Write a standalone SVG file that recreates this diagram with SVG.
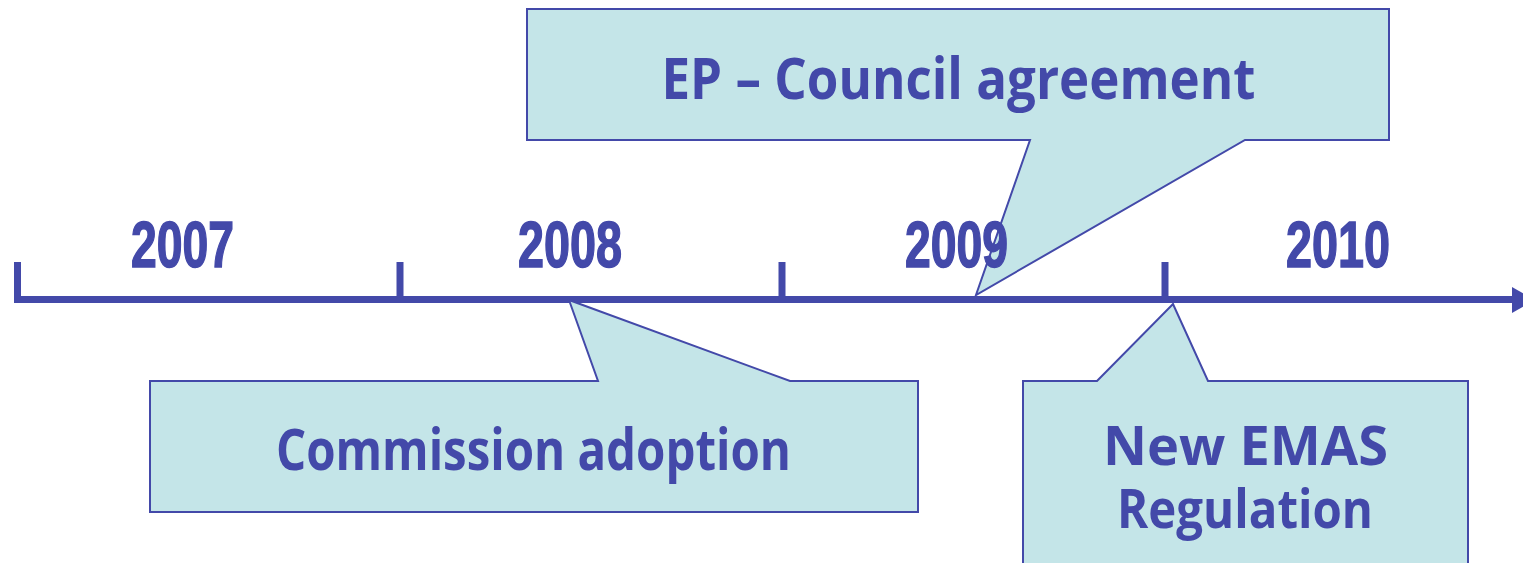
<svg xmlns="http://www.w3.org/2000/svg" width="1523" height="563" viewBox="0 0 1523 563">
<style>
.callout{fill:#C4E5E8;stroke:#4349A9;stroke-width:2;stroke-linejoin:miter}
.lbl{font-family:"Open Sans","Noto Sans",sans-serif;font-weight:700;font-size:57px;fill:#4349A9}
.lbl2{font-family:"Open Sans","Noto Sans",sans-serif;font-weight:700;font-size:54px;fill:#4349A9}
.year{font-family:"Liberation Sans",Arial,sans-serif;font-weight:700;font-size:64px;fill:#4349A9;stroke:#4349A9;stroke-width:1.5}
.axis{stroke:#4349A9;stroke-width:7;fill:none}
</style>
<g id="connectors">
  <g id="axis">
    <line class="axis" x1="17" y1="299.5" x2="1514" y2="299.5"/>
    <line class="axis" x1="17.5" y1="262" x2="17.5" y2="303"/>
    <line class="axis" x1="400" y1="262" x2="400" y2="299"/>
    <line class="axis" x1="782" y1="262" x2="782" y2="299"/>
    <line class="axis" x1="1165" y1="262" x2="1165" y2="299"/>
    <polygon points="1512,287 1535,300 1512,313" fill="#4349A9"/>
  </g>
</g>
<g id="node-commission">
  <path class="callout" d="M150,381 H598 L569,300 L790,381 H918 V512 H150 Z"/>
  <text class="lbl" x="533.5" y="470" text-anchor="middle" textLength="515" lengthAdjust="spacingAndGlyphs">Commission adoption</text>
</g>
<g id="node-ep">
  <path class="callout" d="M527,9 H1389 V140 H1245 L976,295 L1030,140 H527 Z"/>
  <text class="lbl" x="958.5" y="99" text-anchor="middle" textLength="594" lengthAdjust="spacingAndGlyphs">EP – Council agreement</text>
</g>
<g id="node-emas">
  <path class="callout" d="M1023,381 H1097 L1173,304 L1208,381 H1468 V575 H1023 Z"/>
  <text class="lbl2" x="1245.5" y="465" text-anchor="middle" textLength="285" lengthAdjust="spacingAndGlyphs">New EMAS</text>
  <text class="lbl2" x="1245" y="528" text-anchor="middle" textLength="256" lengthAdjust="spacingAndGlyphs">Regulation</text>
</g>
<g id="years">
  <text id="y2007" class="year" x="182.5" y="267" text-anchor="middle" textLength="103" lengthAdjust="spacingAndGlyphs">2007</text>
  <text id="y2008" class="year" x="570" y="267" text-anchor="middle" textLength="104" lengthAdjust="spacingAndGlyphs">2008</text>
  <text id="y2009" class="year" x="956.5" y="267" text-anchor="middle" textLength="103" lengthAdjust="spacingAndGlyphs">2009</text>
  <text id="y2010" class="year" x="1338" y="267" text-anchor="middle" textLength="104" lengthAdjust="spacingAndGlyphs">2010</text>
</g>
</svg>
